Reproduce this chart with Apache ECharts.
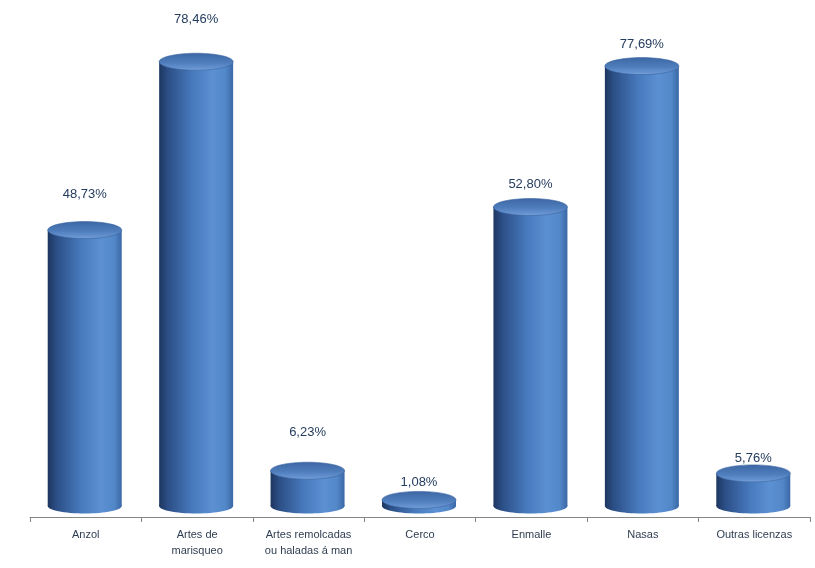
<!DOCTYPE html>
<html>
<head>
<meta charset="utf-8">
<script src="https://cdn.jsdelivr.net/npm/echarts@6/dist/echarts.min.js"></script>
<style>
html,body{margin:0;padding:0;background:#fff;}
#chart{width:815px;height:568px;}
</style>
</head>
<body>
<div id="chart"></div>
<script>
const categories = ['Anzol', 'Artes de\nmarisqueo', 'Artes remolcadas\nou haladas á man', 'Cerco', 'Enmalle', 'Nasas', 'Outras licenzas'];
const values = [48.73, 78.46, 6.23, 1.08, 52.80, 77.69, 5.76];
// label lift (px) above each cylinder top, mimicking the manual label placement
const labelLift = [27, 34, 30, 9, 14, 13, 6];

const chart = echarts.init(document.getElementById('chart'), null, {renderer: 'canvas'});

const sideGrad = {
  type: 'linear', x: 0, y: 0, x2: 1, y2: 0,
  colorStops: [
    {offset: 0, color: '#1d3660'},
    {offset: 0.12, color: '#2c4f86'},
    {offset: 0.45, color: '#4779bd'},
    {offset: 0.72, color: '#5b90d3'},
    {offset: 0.9, color: '#5287c8'},
    {offset: 1, color: '#3b67a6'}
  ]
};
const topGrad = {
  type: 'linear', x: 0, y: 0, x2: 0, y2: 1,
  colorStops: [
    {offset: 0, color: '#3c66a3'},
    {offset: 0.55, color: '#4f7dbc'},
    {offset: 0.85, color: '#6592cf'},
    {offset: 1, color: '#79a4dc'}
  ]
};

function renderItem(params, api) {
  const i = api.value(0), v = api.value(1);
  const p0 = api.coord([i, 0]);
  const p1 = api.coord([i, v]);
  const band = api.size([1, 0])[0];
  const rx = band * 0.332;
  const ryTop = 8.5;
  const ryBase = 7.5;
  const lift = 11;
  const cx = p0[0] - 1;
  const baseY = p0[1] - lift;
  const topY = p1[1] - lift;
  const txt = v.toFixed(2).replace('.', ',') + '%';
  return {
    type: 'group',
    children: [
      {type: 'ellipse', shape: {cx: cx, cy: baseY, rx: rx, ry: ryBase}, style: {fill: sideGrad}},
      {type: 'rect', shape: {x: cx - rx, y: topY, width: 2 * rx, height: Math.max(0, baseY - topY)}, style: {fill: sideGrad}},
      {type: 'ellipse', shape: {cx: cx, cy: topY, rx: rx, ry: ryTop}, style: {fill: topGrad, stroke: '#3a64a0', lineWidth: 0.6}},
      {type: 'text', x: cx, y: topY - ryTop - labelLift[params.dataIndex],
        style: {text: txt, fill: '#243c5e', font: '13px "Liberation Sans", Arial, sans-serif', align: 'center', verticalAlign: 'middle'}}
    ]
  };
}

chart.setOption({
  animation: false,
  backgroundColor: '#ffffff',
  grid: {left: 30, right: 5, top: 64, bottom: 51},
  xAxis: {
    type: 'category',
    data: categories,
    boundaryGap: true,
    axisLine: {lineStyle: {color: '#868686', width: 1}},
    axisTick: {show: true, length: 5, lineStyle: {color: '#868686'}},
    axisLabel: {color: '#2f3e52', fontSize: 11, lineHeight: 16, margin: 10, fontFamily: '"Liberation Sans", Arial, sans-serif', interval: 0}
  },
  yAxis: {
    type: 'value', min: 0, max: 80, show: false,
    splitLine: {show: false}
  },
  series: [{
    type: 'custom',
    renderItem: renderItem,
    clip: false,
    data: values.map((v, i) => [i, v])
  }]
});
</script>
</body>
</html>
